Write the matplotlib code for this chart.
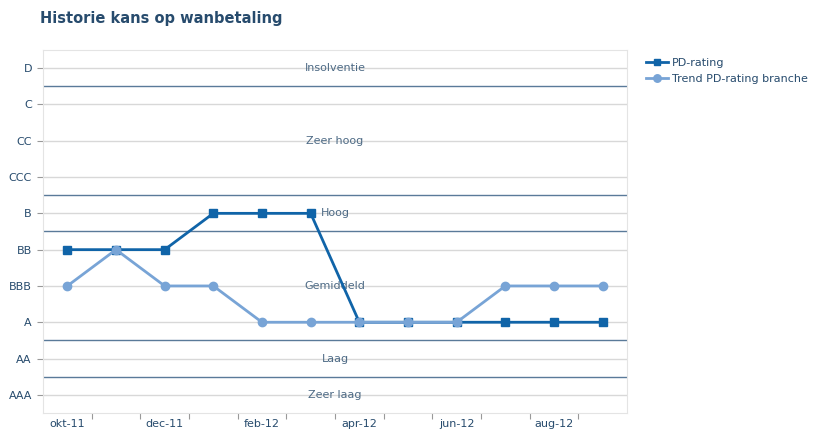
import matplotlib.pyplot as plt

months = ["okt-11", "nov-11", "dec-11", "jan-12", "feb-12", "mrt-12",
          "apr-12", "mei-12", "jun-12", "jul-12", "aug-12", "sep-12"]
ratings = ["AAA", "AA", "A", "BBB", "BB", "B", "CCC", "CC", "C", "D"]

pd_rating = ["BB", "BB", "BB", "B", "B", "B", "A", "A", "A", "A", "A", "A"]
trend = ["BBB", "BB", "BBB", "BBB", "A", "A", "A", "A", "A", "BBB", "BBB", "BBB"]

# band names with their (low, high) rating index
bands = [("Zeer laag", 0, 0), ("Laag", 1, 1), ("Gemiddeld", 2, 4),
         ("Hoog", 5, 5), ("Zeer hoog", 6, 8), ("Insolventie", 9, 9)]

txt = "#274b6d"
fig = plt.figure(figsize=(8.19, 4.32), dpi=100)
ax = fig.add_axes([43 / 819, 1 - 413 / 432, 584 / 819, 363 / 432])

x = list(range(len(months)))
y_pd = [ratings.index(r) for r in pd_rating]
y_tr = [ratings.index(r) for r in trend]

for i in range(len(ratings)):
    ax.axhline(i, color="#d8d8d8", lw=1, zorder=1)
for name, lo, hi in bands[:-1]:
    ax.axhline(hi + 0.5, color="#5a7a99", lw=1, zorder=1)
for name, lo, hi in bands:
    ax.text(5.5, (lo + hi) / 2, name, ha="center", va="center",
            fontsize=8, color="#4d6a85", zorder=2)

ax.plot(x, y_pd, color="#1064a8", lw=2, marker="s", ms=5.5, zorder=3,
        label="PD-rating")
ax.plot(x, y_tr, color="#78a4d6", lw=2, marker="o", ms=6, zorder=4,
        label="Trend PD-rating branche")

ax.set_xlim(-0.5, len(months) - 0.5)
ax.set_ylim(-0.5, len(ratings) - 0.5)

ax.set_yticks(range(len(ratings)))
ax.set_yticklabels(ratings, fontsize=8, color=txt)
ax.tick_params(axis="y", length=4, color="#999999", pad=4)

ax.set_xticks([i + 0.5 for i in x[:-1]])
ax.set_xticklabels([])
ax.tick_params(axis="x", which="major", length=4, color="#999999", direction="out")
ax.set_xticks(x[::2], minor=True)
ax.set_xticklabels(months[::2], minor=True, fontsize=8, color=txt)
ax.tick_params(axis="x", which="minor", length=0, pad=4)

for s in ax.spines.values():
    s.set_color("#e4e4e4")

fig.text(40 / 819, 1 - 18 / 432, "Historie kans op wanbetaling", fontsize=10.5,
         fontweight="bold", color=txt, va="center")
fig.legend(loc="upper left", bbox_to_anchor=(636 / 819, 1 - 48 / 432), frameon=False,
           fontsize=8, labelcolor=txt, handlelength=2.0, handletextpad=0.3,
           labelspacing=0.5, markerscale=0.9)

fig.savefig("out.png", dpi=100)
